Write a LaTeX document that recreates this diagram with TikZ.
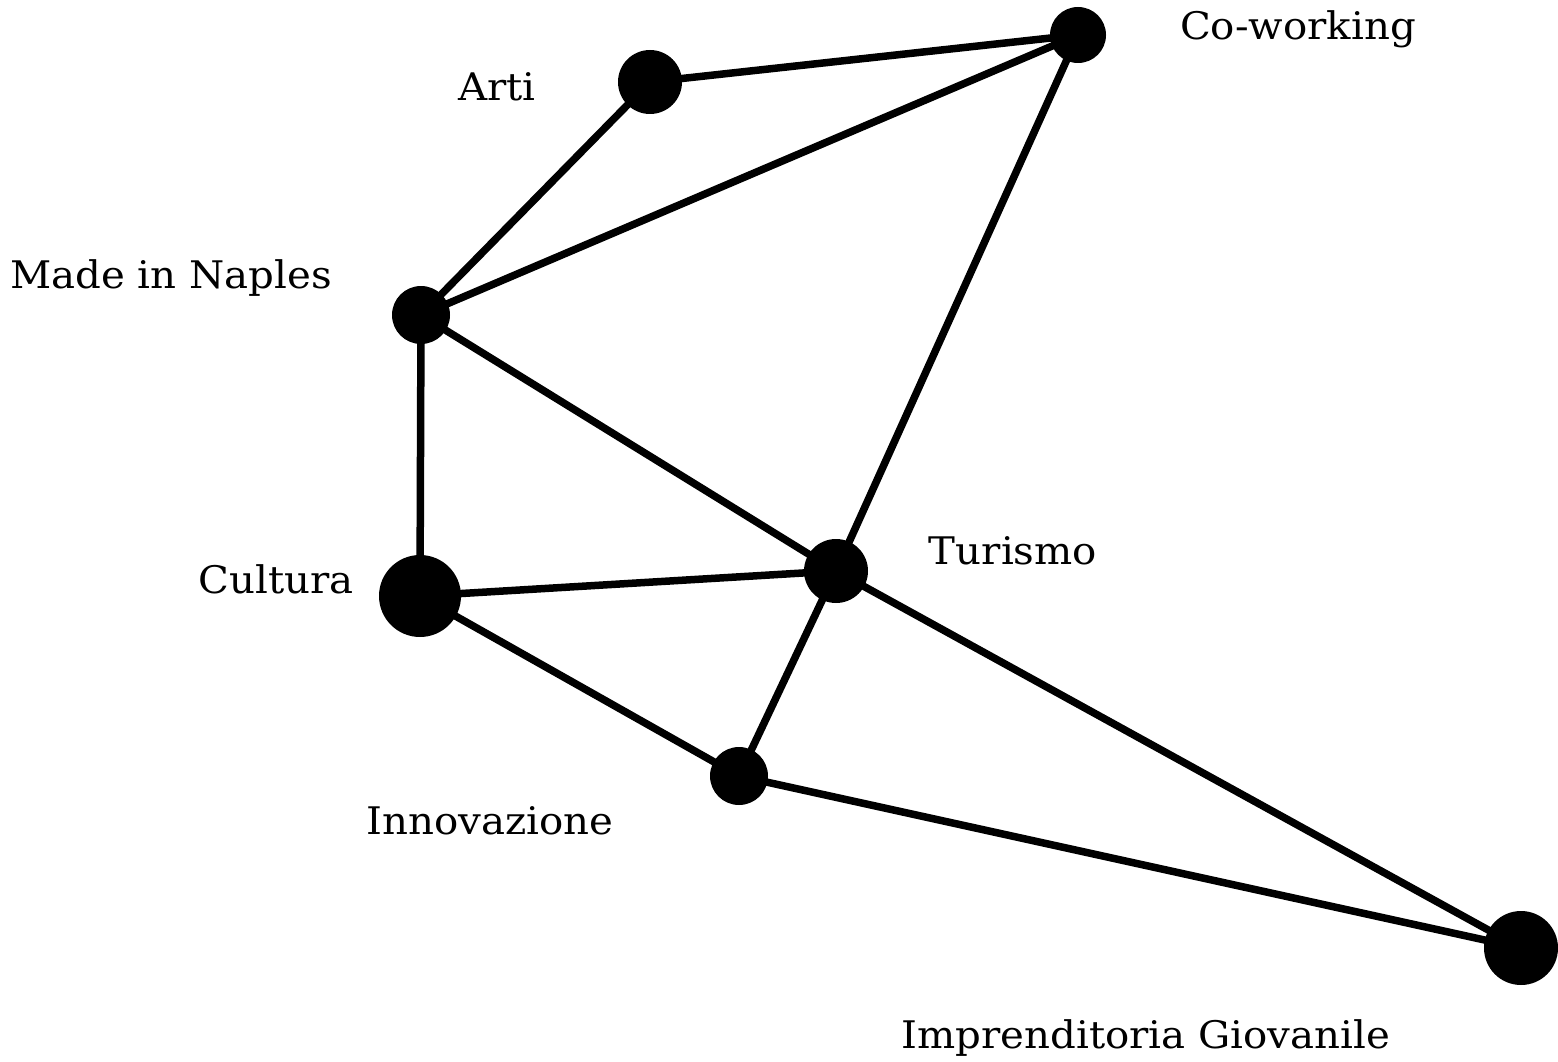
\documentclass[tikz,border=0pt]{standalone}
\usepackage{fontspec}
\setmainfont{DejaVu Serif}
\tikzset{
  dot/.style={circle,fill=black,inner sep=0pt,minimum size=#1},
  lbl/.style={anchor=base,font=\fontsize{38}{42}\selectfont},
  link/.style={line width=7.5pt,black}
}
\newcommand{\wide}[1]{\scalebox{1.06}[1]{#1}}
\begin{document}
\begin{tikzpicture}[x=1pt,y=-1pt]
\useasboundingbox (0,0) rectangle (1558,1062);
\node[dot=64pt] (arti) at (650,82) {};
\node[dot=56pt] (cow) at (1078,35) {};
\node[dot=58pt] (made) at (421,315) {};
\node[dot=64pt] (tur) at (836,571) {};
\node[dot=82pt] (cult) at (420,596) {};
\node[dot=58pt] (inn) at (739,776) {};
\node[dot=74pt] (imp) at (1521,948) {};
\draw[link] (arti.center) -- (cow.center);
\draw[link] (arti.center) -- (made.center);
\draw[link] (made.center) -- (cow.center);
\draw[link] (cow.center) -- (tur.center);
\draw[link] (made.center) -- (tur.center);
\draw[link] (made.center) -- (cult.center);
\draw[link] (cult.center) -- (tur.center);
\draw[link] (cult.center) -- (inn.center);
\draw[link] (tur.center) -- (inn.center);
\draw[link] (tur.center) -- (imp.center);
\draw[link] (inn.center) -- (imp.center);
\node[lbl] (tarti) at (497,101) {\wide{Arti}};
\node[lbl] (tcow) at (1298,40) {\wide{Co-working}};
\node[lbl] (tmade) at (171,288) {\wide{Made in Naples}};
\node[lbl] (tcult) at (276,593) {\wide{Cultura}};
\node[lbl] (ttur) at (1013,564) {\wide{Turismo}};
\node[lbl] (tinn) at (490,834) {\wide{Innovazione}};
\node[lbl] (timp) at (1146,1048) {\wide{Imprenditoria Giovanile}};
\end{tikzpicture}
\end{document}
